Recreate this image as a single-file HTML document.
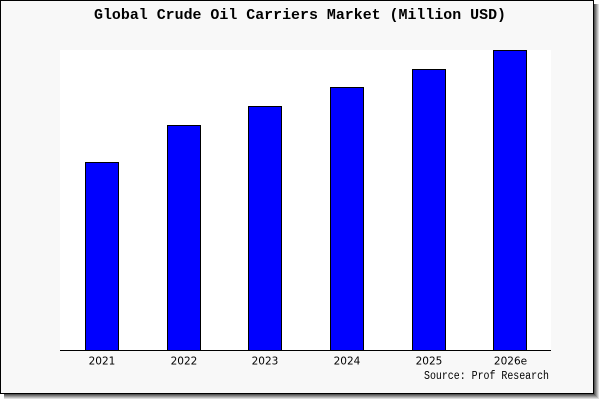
<!DOCTYPE html>
<html>
<head>
<meta charset="utf-8">
<style>
html,body{margin:0;padding:0;background:#fff;}
svg{display:block;}
</style>
</head>
<body>
<svg width="600" height="400" viewBox="0 0 600 400" xmlns="http://www.w3.org/2000/svg">
  <rect x="0" y="0" width="600" height="400" fill="#ffffff"/>
  <!-- shadow right -->
  <rect x="594" y="4" width="1" height="395" fill="#555555"/>
  <rect x="595" y="4" width="1" height="395" fill="#777777"/>
  <rect x="596" y="4" width="1" height="395" fill="#999999"/>
  <rect x="597" y="4" width="1" height="395" fill="#bbbbbb"/>
  <rect x="598" y="4" width="1" height="395" fill="#dddddd"/>
  <!-- shadow bottom -->
  <rect x="4" y="394" width="591" height="1" fill="#555555"/>
  <rect x="4" y="395" width="592" height="1" fill="#777777"/>
  <rect x="4" y="396" width="593" height="1" fill="#999999"/>
  <rect x="4" y="397" width="594" height="1" fill="#bbbbbb"/>
  <rect x="4" y="398" width="595" height="1" fill="#dddddd"/>
  <!-- frame -->
  <rect x="0.5" y="0.5" width="593" height="393" fill="#f8f8f8" stroke="#000" stroke-width="1"/>
  <!-- plot area -->
  <rect x="60" y="50" width="491" height="300" fill="#ffffff"/>
  <!-- title -->
  <text x="300" y="19" text-anchor="middle" font-family="Liberation Mono, DejaVu Sans Mono, monospace" font-size="15" font-weight="bold" textLength="412" lengthAdjust="spacingAndGlyphs" fill="#000">Global Crude Oil Carriers Market (Million USD)</text>
  <!-- bars -->
  <g fill="#0000ff" stroke="#000" stroke-width="1">
    <rect x="85.5" y="162.5" width="33" height="188"/>
    <rect x="167.5" y="125.5" width="33" height="225"/>
    <rect x="248.5" y="106.5" width="33" height="244"/>
    <rect x="330.5" y="87.5" width="33" height="263"/>
    <rect x="412.5" y="69.5" width="33" height="281"/>
    <rect x="493.5" y="50.5" width="33" height="300"/>
  </g>
  <!-- axis -->
  <rect x="60" y="350" width="491" height="1" fill="#000"/>
  <!-- labels -->
  <g font-family="DejaVu Sans, Liberation Sans, sans-serif" font-size="10.5" fill="#000" text-anchor="middle">
    <text x="102" y="364.5">2021</text>
    <text x="184" y="364.5">2022</text>
    <text x="265" y="364.5">2023</text>
    <text x="347" y="364.5">2024</text>
    <text x="429" y="364.5">2025</text>
    <text x="510.5" y="364.5">2026e</text>
  </g>
  <text x="424" y="379" font-family="Liberation Mono, DejaVu Sans Mono, monospace" font-size="11.5" textLength="125" lengthAdjust="spacingAndGlyphs" fill="#000">Source: Prof Research</text>
</svg>
</body>
</html>
